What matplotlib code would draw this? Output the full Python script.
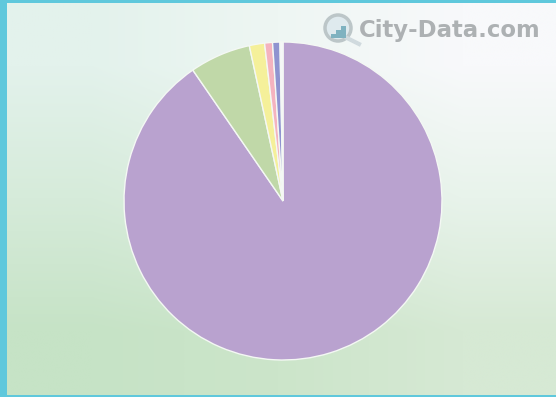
import matplotlib
matplotlib.use('Agg')
import matplotlib.pyplot as plt
from matplotlib.patches import Circle, Rectangle, Wedge
from matplotlib.lines import Line2D
import numpy as np

W, H = 556, 397

# slice sizes in percent, clockwise from the top
values = [90.4, 6.2, 1.55, 0.8, 0.75, 0.3]
colors = ['#b9a2cf', '#c0d8a8', '#f5f09a', '#f4b3bf', '#8f93d0', '#f6f7f8']

fig = plt.figure(figsize=(W / 100, H / 100), dpi=100)
ax = fig.add_axes([0, 0, 1, 1])
ax.axis('off')

# background wash, pale at the top right and green at the bottom
bg_colors = np.array([
    [[0xe3, 0xf2, 0xec], [0xee, 0xf6, 0xf3], [0xf8, 0xf9, 0xfb]],
    [[0xd6, 0xeb, 0xda], [0xdf, 0xef, 0xe1], [0xe8, 0xf3, 0xeb]],
    [[0xc6, 0xe3, 0xc6], [0xcc, 0xe5, 0xca], [0xd6, 0xe9, 0xd4]],
], dtype=float) / 255
ax.imshow(bg_colors, extent=(0, W, H, 0), interpolation='bilinear', aspect='auto', zorder=0)
ax.set_xlim(0, W)
ax.set_ylim(H, 0)

# frame
frame = '#5fc8dc'
ax.add_patch(Rectangle((0, 0), 7, H, color=frame, lw=0, zorder=1))
ax.add_patch(Rectangle((0, 0), W, 3, color=frame, lw=0, zorder=1))
ax.add_patch(Rectangle((0, H - 2), W, 2, color=frame, lw=0, zorder=1))

# pie
cx, cy, r = 283, 201, 159
start = -90.0
for v, c in zip(values, colors):
    sweep = v * 3.6
    ax.add_patch(Wedge((cx, cy), r, start, start + sweep, facecolor=c,
                       edgecolor='#f4f8f4', lw=1.0, zorder=2))
    start += sweep

# magnifier logo
ax.add_patch(Circle((338, 28), 13, facecolor='#dfeaee', edgecolor='#bcc6c8', lw=2.5, zorder=3))
ax.add_line(Line2D([347, 359], [38, 44], color='#d0dade', lw=3, zorder=3))
for x, h in zip([331, 336, 341], [4, 8, 12]):
    ax.add_patch(Rectangle((x, 38 - h), 4.5, h, color='#7fb2c0', lw=0, zorder=4))

ax.text(359, 30.5, 'City-Data.com', fontsize=16.4, family='DejaVu Sans', color='#adb1b3',
        fontweight='bold', ha='left', va='center', zorder=3)

fig.savefig('out.png', dpi=100)
